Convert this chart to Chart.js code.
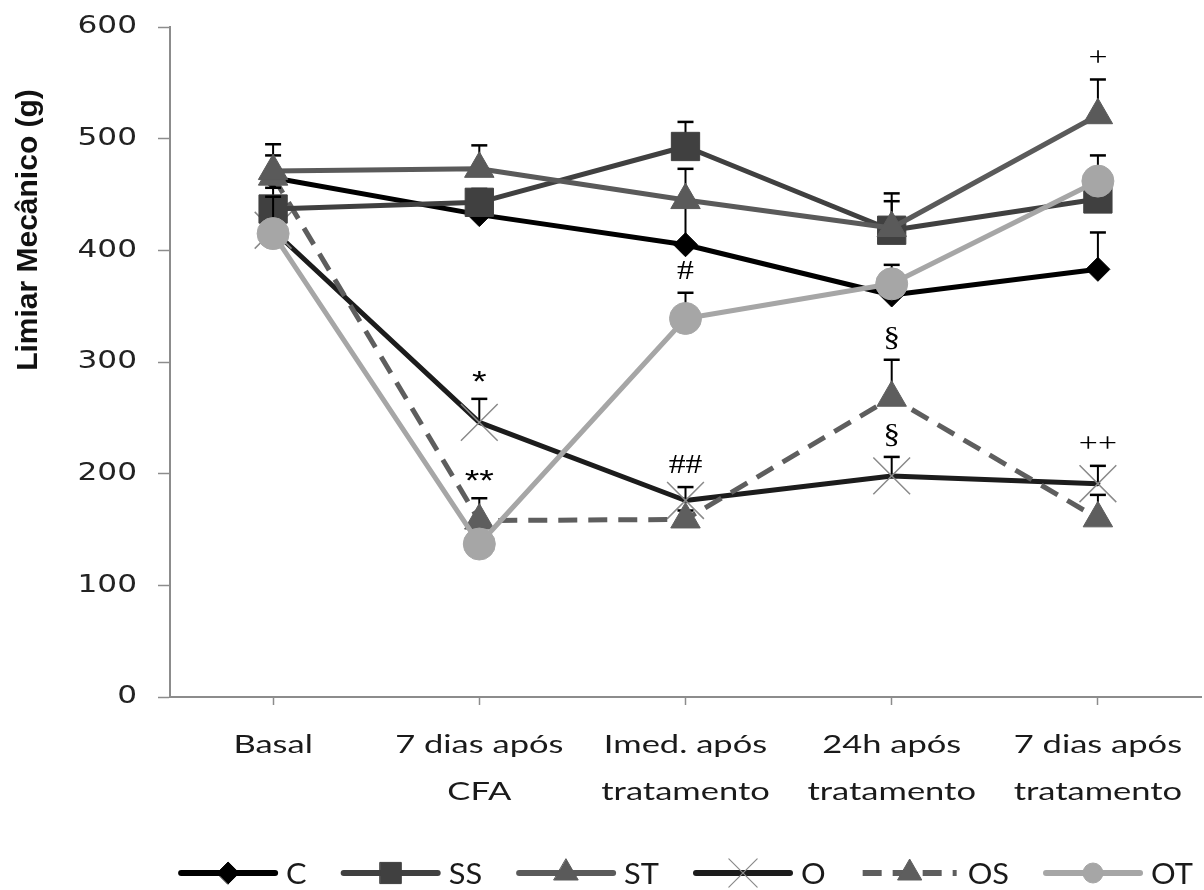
<!DOCTYPE html>
<html>
<head>
<meta charset="utf-8">
<script src="https://cdn.jsdelivr.net/npm/chart.js@4.4.1/dist/chart.umd.min.js"></script>
<style>
  html, body { margin: 0; padding: 0; background: #ffffff; overflow: hidden; }
  #wrap { width: 1204px; height: 890px; position: relative; }
</style>
</head>
<body>
<div id="wrap"><canvas id="chart" width="1204" height="890"></canvas></div>
<script>
// Time points of the protocol
const categories = [
  ['Basal'],
  ['7 dias após', 'CFA'],
  ['Imed. após', 'tratamento'],
  ['24h após', 'tratamento'],
  ['7 dias após', 'tratamento']
];
const yTickValues = [0, 100, 200, 300, 400, 500, 600];
const yTitle = 'Limiar Mecânico (g)';

// Group means (g) and upper error (SEM)
const seriesNames = ['C', 'SS', 'ST', 'O', 'OS', 'OT'];
const valuesC  = [465, 432, 405, 360, 383];
const errorC   = [20, 10, 35, 10, 33];
const valuesSS = [437, 443, 493, 418, 446];
const errorSS  = [19, 12, 22, 33, 10];
const valuesST = [471, 473, 445, 420, 521];
const errorST  = [24, 21, 28, 24, 32];
const valuesO  = [418, 246, 176, 198, 191];
const errorO   = [30, 21, 12, 17, 16];
const valuesOS = [466, 158, 159, 268, 160];
const errorOS  = [6, 20, 8, 34, 21];
const valuesOT = [415, 137, 339, 370, 462];
const errorOT  = [33, 10, 23, 17, 23];

// Significance marks: symbol, group it sits above, time point
const markTexts  = ['*', '**', '##', '#', '§', '§', '+', '++'];
const markSeries = ['O', 'OS', 'O', 'OT', 'OS', 'O', 'ST', 'O'];
const markIndex  = [1, 1, 2, 2, 3, 3, 4, 4];

const styles = {
  C:  { color: '#000000', point: 'rectRot',  r: 12, lr: 11, dash: [],       pointColor: '#000000', pointBorder: '#000000', pbw: 1,   order: 6 },
  SS: { color: '#404040', point: 'rect',     r: 20, lr: 15, dash: [],       pointColor: '#404040', pointBorder: '#404040', pbw: 1,   order: 3 },
  ST: { color: '#5a5a5a', point: 'triangle', r: 17, lr: 14, dash: [],       pointColor: '#5a5a5a', pointBorder: '#5a5a5a', pbw: 1,   order: 2 },
  O:  { color: '#1c1c1c', point: 'crossRot', r: 26, lr: 20, dash: [],       pointColor: '#8a8a8a', pointBorder: '#8a8a8a', pbw: 1.5, order: 5 },
  OS: { color: '#5e5e5e', point: 'triangle', r: 17, lr: 14, dash: [19, 11], pointColor: '#5e5e5e', pointBorder: '#5e5e5e', pbw: 1,   order: 4 },
  OT: { color: '#a6a6a6', point: 'circle',   r: 16, lr: 10, dash: [],       pointColor: '#a6a6a6', pointBorder: '#a6a6a6', pbw: 1,   order: 1 }
};
const seriesValues = { C: valuesC, SS: valuesSS, ST: valuesST, O: valuesO, OS: valuesOS, OT: valuesOT };
const seriesErrors = { C: errorC, SS: errorSS, ST: errorST, O: errorO, OS: errorOS, OT: errorOT };

const AXIS_GRAY = '#8c8c8c';
const TEXT = '#1a1a1a';

// Text drawn with a horizontal stretch factor
function wideText(ctx, text, x, y, font, sx, align, baseline, color) {
  ctx.save();
  ctx.font = font;
  ctx.fillStyle = color || TEXT;
  ctx.textBaseline = baseline || 'middle';
  ctx.textAlign = 'left';
  const w = ctx.measureText(text).width * sx;
  let x0 = x;
  if (align === 'center') x0 = x - w / 2;
  else if (align === 'right') x0 = x - w;
  ctx.translate(x0, y);
  ctx.scale(sx, 1);
  ctx.fillText(text, 0, 0);
  ctx.restore();
  return w;
}

const datasets = seriesNames.map(name => {
  const s = styles[name];
  return {
    label: name,
    data: seriesValues[name],
    upperError: seriesErrors[name],
    borderColor: s.color,
    backgroundColor: s.color,
    borderWidth: 5,
    borderDash: s.dash,
    borderCapStyle: s.dash.length ? 'butt' : 'round',
    borderJoinStyle: 'round',
    pointStyle: s.point,
    pointRadius: s.r,
    pointHoverRadius: s.r,
    pointBackgroundColor: s.pointColor,
    pointBorderColor: s.pointBorder,
    pointBorderWidth: s.pbw,
    tension: 0,
    fill: false,
    clip: false,
    order: s.order
  };
});

// Upper error bars, drawn just beneath each group's own line and markers
const upperErrorBars = {
  id: 'upperErrorBars',
  beforeDatasetDraw(chart, args) {
    const ds = chart.data.datasets[args.index];
    const yScale = chart.scales.y;
    const ctx = chart.ctx;
    ctx.save();
    ctx.strokeStyle = '#000000';
    ctx.lineCap = 'butt';
    args.meta.data.forEach((pt, i) => {
      const top = yScale.getPixelForValue(ds.data[i] + ds.upperError[i]);
      ctx.lineWidth = 2;
      ctx.beginPath();
      ctx.moveTo(pt.x, pt.y);
      ctx.lineTo(pt.x, top);
      ctx.stroke();
      ctx.lineWidth = 2.5;
      ctx.beginPath();
      ctx.moveTo(pt.x - 8, top);
      ctx.lineTo(pt.x + 8, top);
      ctx.stroke();
    });
    ctx.restore();
  }
};

// Significance symbols above the error bars
const significanceMarks = {
  id: 'significanceMarks',
  afterDatasetsDraw(chart) {
    const ctx = chart.ctx;
    const yScale = chart.scales.y;
    markTexts.forEach((txt, k) => {
      const name = markSeries[k];
      const di = seriesNames.indexOf(name);
      const i = markIndex[k];
      const pt = chart.getDatasetMeta(di).data[i];
      const top = yScale.getPixelForValue(seriesValues[name][i] + seriesErrors[name][i]);
      if (txt.indexOf('*') === 0) {
        wideText(ctx, txt, pt.x, top - 16, '30px "Liberation Sans"', 1.25, 'center', 'middle', '#000');
      } else {
        wideText(ctx, txt, pt.x, top - 21, '27px "Liberation Serif"', 1.25, 'center', 'middle', '#000');
      }
    });
  }
};

// Axis labels, axis title and legend
const axisTextAndLegend = {
  id: 'axisTextAndLegend',
  afterDraw(chart) {
    const ctx = chart.ctx;
    const xScale = chart.scales.x;
    const yScale = chart.scales.y;
    const area = chart.chartArea;

    yTickValues.forEach(v => {
      wideText(ctx, String(v), 137, yScale.getPixelForValue(v), '24px "DejaVu Sans"', 1.3, 'right', 'middle', '#222222');
    });

    categories.forEach((lines, i) => {
      const x = xScale.getPixelForValue(i);
      lines.forEach((line, j) => {
        wideText(ctx, line, x, 753 + j * 47, '25px Lato', 1.38, 'center', 'alphabetic', TEXT);
      });
    });

    ctx.save();
    ctx.translate(29, 230);
    ctx.rotate(-Math.PI / 2);
    ctx.font = 'bold 30px "Liberation Sans"';
    ctx.fillStyle = '#111111';
    ctx.textAlign = 'center';
    ctx.textBaseline = 'middle';
    ctx.fillText(yTitle, 0, 0);
    ctx.restore();

    // Legend: line sample with marker, then the group name
    const lineLen = 100, gap = 8, spacing = 34, sx = 1.1;
    const font = '28px Lato';
    ctx.save();
    ctx.font = font;
    const widths = seriesNames.map(n => ctx.measureText(n).width * sx);
    ctx.restore();
    const total = widths.reduce((a, w) => a + lineLen + gap + w, 0) + spacing * (seriesNames.length - 1);
    let x = (area.left + area.right) / 2 - total / 2;
    const ly = 873;
    seriesNames.forEach((name, k) => {
      const s = styles[name];
      ctx.save();
      ctx.strokeStyle = s.color;
      ctx.lineWidth = 6;
      ctx.setLineDash(s.dash);
      ctx.lineCap = s.dash.length ? 'butt' : 'round';
      ctx.beginPath();
      ctx.moveTo(x + 3, ly);
      ctx.lineTo(x + lineLen - 3, ly);
      ctx.stroke();
      ctx.setLineDash([]);
      ctx.fillStyle = s.pointColor;
      ctx.strokeStyle = s.pointBorder;
      ctx.lineWidth = name === 'O' ? 1.2 : 1;
      Chart.helpers.drawPoint(ctx, { pointStyle: s.point, radius: s.lr, rotation: 0, borderWidth: ctx.lineWidth }, x + lineLen / 2, ly);
      ctx.restore();
      wideText(ctx, name, x + lineLen + gap, ly + 11, font, sx, 'left', 'alphabetic', TEXT);
      x += lineLen + gap + widths[k] + spacing;
    });
  }
};

new Chart(document.getElementById('chart'), {
  type: 'line',
  data: { labels: categories, datasets: datasets },
  options: {
    responsive: false,
    animation: false,
    devicePixelRatio: 1,
    events: [],
    layout: { autoPadding: false, padding: { left: 158, right: 3, top: 27, bottom: 185 } },
    plugins: { legend: { display: false }, tooltip: { enabled: false } },
    scales: {
      x: {
        type: 'category',
        offset: true,
        grid: { display: true, offset: false, drawOnChartArea: false, drawTicks: true, tickLength: 8, color: AXIS_GRAY, tickWidth: 1.5 },
        border: { display: true, color: AXIS_GRAY, width: 2 },
        ticks: { display: false }
      },
      y: {
        min: 0,
        max: 600,
        ticks: { display: false, stepSize: 100 },
        grid: { display: true, drawOnChartArea: false, drawTicks: true, tickLength: 12, color: AXIS_GRAY, tickWidth: 1.5 },
        border: { display: true, color: AXIS_GRAY, width: 2 }
      }
    }
  },
  plugins: [upperErrorBars, significanceMarks, axisTextAndLegend]
});
</script>
</body>
</html>
